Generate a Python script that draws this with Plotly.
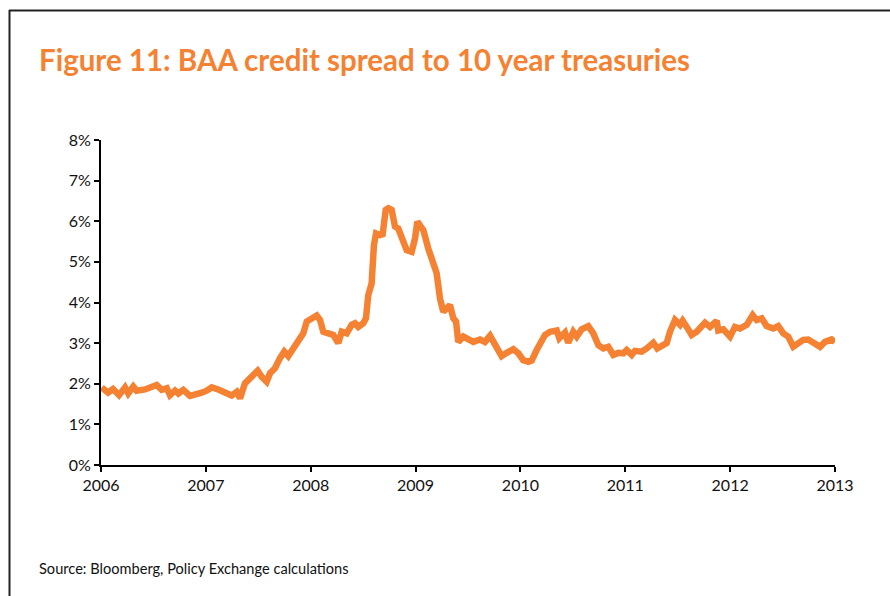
import plotly.graph_objects as go

# BAA corporate yield minus 10-year Treasury yield, in percentage points.
# Dates are fractional years.
years = [
    2006.007, 2006.067, 2006.114, 2006.172, 2006.229, 2006.260, 2006.308, 2006.340,
    2006.420, 2006.467, 2006.531, 2006.579, 2006.627, 2006.658, 2006.706, 2006.737,
    2006.785, 2006.849, 2006.896, 2006.960, 2007.008, 2007.056, 2007.119, 2007.183,
    2007.246, 2007.294, 2007.326, 2007.373, 2007.421, 2007.494, 2007.533, 2007.580,
    2007.612, 2007.659, 2007.707, 2007.748, 2007.786, 2007.834, 2007.882, 2007.929,
    2007.962, 2008.009, 2008.057, 2008.089, 2008.120, 2008.168, 2008.215, 2008.263,
    2008.296, 2008.343, 2008.391, 2008.422, 2008.454, 2008.501, 2008.527, 2008.549,
    2008.581, 2008.603, 2008.623, 2008.661, 2008.686, 2008.715, 2008.740, 2008.772,
    2008.804, 2008.835, 2008.868, 2008.915, 2008.963, 2008.995, 2009.017, 2009.042,
    2009.074, 2009.121, 2009.163, 2009.201, 2009.233, 2009.264, 2009.328, 2009.360,
    2009.386, 2009.407, 2009.455, 2009.503, 2009.551, 2009.614, 2009.662, 2009.710,
    2009.757, 2009.821, 2009.869, 2009.932, 2009.980, 2010.027, 2010.075, 2010.107,
    2010.155, 2010.203, 2010.234, 2010.282, 2010.346, 2010.371, 2010.425, 2010.456,
    2010.504, 2010.537, 2010.584, 2010.647, 2010.695, 2010.743, 2010.790, 2010.838,
    2010.886, 2010.933, 2010.981, 2011.013, 2011.061, 2011.092, 2011.156, 2011.204,
    2011.267, 2011.305, 2011.347, 2011.395, 2011.426, 2011.474, 2011.522, 2011.547,
    2011.586, 2011.633, 2011.681, 2011.729, 2011.760, 2011.808, 2011.872, 2011.887,
    2011.935, 2011.999, 2012.046, 2012.094, 2012.158, 2012.215, 2012.253, 2012.301,
    2012.348, 2012.411, 2012.459, 2012.507, 2012.554, 2012.602, 2012.650, 2012.697,
    2012.745, 2012.793, 2012.857, 2012.904, 2012.968, 2013.000,
]
spread = [
    1.91, 1.78, 1.87, 1.72, 1.91, 1.76, 1.93, 1.83,
    1.86, 1.91, 1.97, 1.85, 1.89, 1.72, 1.83, 1.76,
    1.85, 1.70, 1.72, 1.78, 1.83, 1.91, 1.86, 1.80,
    1.71, 1.80, 1.64, 2.01, 2.13, 2.32, 2.17, 2.05,
    2.26, 2.38, 2.63, 2.79, 2.68, 2.87, 3.12, 3.24,
    3.53, 3.61, 3.68, 3.57, 3.28, 3.24, 3.20, 3.00,
    3.28, 3.24, 3.45, 3.49, 3.40, 3.49, 3.61, 4.18,
    4.47, 5.42, 5.70, 5.66, 5.68, 6.28, 6.32, 6.28,
    5.87, 5.82, 5.62, 5.29, 5.25, 5.58, 5.99, 5.87,
    5.78, 5.33, 5.00, 4.72, 4.10, 3.77, 3.94, 3.61,
    3.53, 3.03, 3.16, 3.08, 3.03, 3.09, 3.03, 3.18,
    2.95, 2.68, 2.76, 2.85, 2.75, 2.58, 2.54, 2.57,
    2.83, 3.03, 3.20, 3.28, 3.31, 3.12, 3.26, 3.01,
    3.28, 3.16, 3.34, 3.42, 3.24, 2.95, 2.87, 2.91,
    2.71, 2.76, 2.75, 2.83, 2.71, 2.81, 2.79, 2.87,
    3.01, 2.87, 2.95, 3.00, 3.28, 3.57, 3.45, 3.55,
    3.40, 3.20, 3.28, 3.40, 3.50, 3.40, 3.55, 3.31,
    3.34, 3.16, 3.40, 3.36, 3.45, 3.69, 3.57, 3.61,
    3.42, 3.36, 3.42, 3.24, 3.16, 2.91, 3.00, 3.08,
    3.09, 3.03, 2.91, 3.03, 3.09, 3.03,
]

year_ticks = [2006, 2007, 2008, 2009, 2010, 2011, 2012, 2013]
pct_ticks = [0, 1, 2, 3, 4, 5, 6, 7, 8]

ORANGE = "#F58232"
FONT = "Lato, 'Open Sans', sans-serif"

fig = go.Figure(
    go.Scatter(
        x=years,
        y=spread,
        mode="lines",
        line=dict(color=ORANGE, width=6.5),
        hoverinfo="x+y",
    )
)

fig.update_layout(
    width=890,
    height=596,
    margin=dict(l=101, r=55, t=140, b=131),
    paper_bgcolor="white",
    plot_bgcolor="white",
    showlegend=False,
    font=dict(family=FONT, size=16, color="#111111"),
)

fig.update_xaxes(
    range=[2006, 2013],
    tickvals=year_ticks,
    ticktext=[str(y) for y in year_ticks],
    showgrid=False,
    zeroline=False,
    showline=True,
    linecolor="black",
    linewidth=2,
    ticks="outside",
    ticklen=5,
    tickwidth=2,
    tickcolor="black",
)
fig.update_yaxes(
    range=[0, 8],
    tickvals=pct_ticks,
    ticktext=[f"{v}%" for v in pct_ticks],
    showgrid=False,
    zeroline=False,
    showline=True,
    linecolor="black",
    linewidth=2,
    ticks="outside",
    ticklen=5,
    tickwidth=2,
    tickcolor="black",
)

# Page-style frame around the figure (top and left edges)
px_w, px_h = 734.0, 325.0
def fx(px):
    return (px - 101) / px_w
def fy(py):
    return (465 - py) / px_h

fig.add_shape(type="line", xref="paper", yref="paper",
              x0=fx(9), x1=fx(892), y0=fy(10.5), y1=fy(10.5),
              line=dict(color="#222222", width=2))
fig.add_shape(type="line", xref="paper", yref="paper",
              x0=fx(9.5), x1=fx(9.5), y0=fy(10), y1=fy(600),
              line=dict(color="#222222", width=2))

fig.add_annotation(
    text="<b>Figure 11: BAA credit spread to 10 year treasuries</b>",
    xref="paper", yref="paper", x=fx(37), y=fy(59),
    xanchor="left", yanchor="middle", showarrow=False,
    font=dict(family=FONT, size=29.5, color=ORANGE),
)
fig.add_annotation(
    text="Source: Bloomberg, Policy Exchange calculations",
    xref="paper", yref="paper", x=fx(37), y=fy(568),
    xanchor="left", yanchor="middle", showarrow=False,
    font=dict(family=FONT, size=14.6, color="#111111"),
)

fig.write_html("out.html")
